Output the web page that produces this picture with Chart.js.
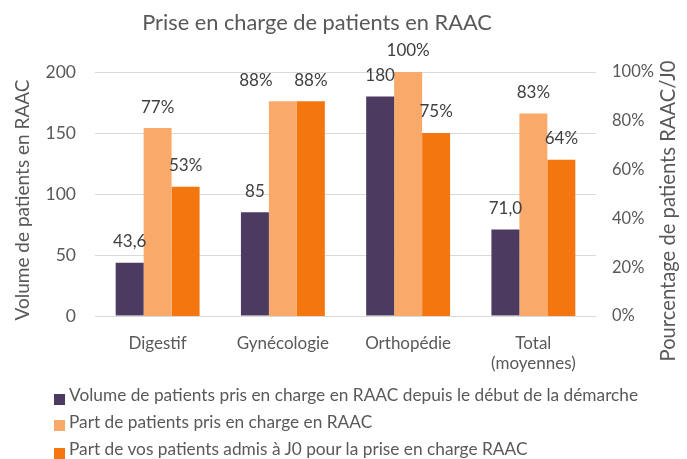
<!DOCTYPE html>
<html><head><meta charset="utf-8">
<script src="https://cdn.jsdelivr.net/npm/chart.js@4/dist/chart.umd.min.js"></script>
<style>
html,body{margin:0;padding:0;background:#fff;}
#wrap{position:relative;width:687px;height:459px;font-family:Lato,sans-serif;color:#595959;}
#c{position:absolute;left:0;top:0;}
#title{position:absolute;left:0;width:634px;top:9px;text-align:center;font-size:21.8px;line-height:26px;white-space:nowrap;}
.lg{position:absolute;left:54px;font-size:17.3px;line-height:20px;white-space:nowrap;}
.lg i{position:absolute;left:0;width:11px;height:11px;}
.lg span{position:absolute;left:15px;top:0;}
</style>
</head><body>
<div id="wrap">
<canvas id="c" width="687" height="459"></canvas>
<div id="title"></div>
<div id="legend"></div>
</div>
<script>
const chartTitle = "Prise en charge de patients en RAAC";
const categories = ["Digestif", "Gynécologie", "Orthopédie", ["Total", "(moyennes)"]];
const volumeValues = [43.6, 85, 180, 71.0];
const volumeLabels = ["43,6", "85", "180", "71,0"];
const partRAAC = [77, 88, 100, 83];
const partJ0 = [53, 88, 75, 64];
const seriesNames = [
  "Volume de patients pris en charge en RAAC depuis le début de la démarche",
  "Part de patients pris en charge en RAAC",
  "Part de vos patients admis à J0 pour la prise en charge RAAC"
];
const leftTicks = [0, 50, 100, 150, 200];
const rightTicks = [0, 20, 40, 60, 80, 100];
const leftAxisTitle = "Volume de patients en RAAC";
const rightAxisTitle = "Pourcentage de patients RAAC/J0";
const colors = ["#4d3a61", "#f9aa6b", "#f3760f"];

const FONT = "Lato, sans-serif";
const TXT = "#595959";

document.getElementById('title').textContent = chartTitle;
const lg = document.getElementById('legend');
const rowTops = [385, 411.5, 439];
seriesNames.forEach((n, i) => {
  const d = document.createElement('div');
  d.className = 'lg';
  d.style.top = rowTops[i] + 'px';
  d.innerHTML = '<i style="background:' + colors[i] + ';top:8.5px"></i><span></span>';
  d.querySelector('span').textContent = n;
  lg.appendChild(d);
});

// label nudge (manually moved label in the original: Gynécologie, 2nd series)
function labelShift(di, i) { return (di === 1 && i === 1) ? -27 : 0; }

const extras = {
  id: 'extras',
  afterDatasetsDraw(chart) {
    const ctx = chart.ctx;
    ctx.save();
    ctx.font = "17px " + FONT;
    ctx.fillStyle = "#404040";
    ctx.textAlign = 'center';
    ctx.textBaseline = 'middle';
    chart.data.datasets.forEach((ds, di) => {
      const meta = chart.getDatasetMeta(di);
      meta.data.forEach((el, i) => {
        const txt = di === 0 ? volumeLabels[i] : ds.data[i] + '%';
        ctx.fillText(txt, el.x + labelShift(di, i), el.y - 21);
      });
    });
    ctx.fillStyle = TXT;
    ctx.font = "19px " + FONT;
    const ca = chart.chartArea;
    ctx.translate(23, (ca.top + ca.bottom) / 2 + 6);
    ctx.rotate(-Math.PI / 2);
    ctx.fillText(leftAxisTitle, 0, 0);
    ctx.restore();
    ctx.save();
    ctx.fillStyle = TXT;
    ctx.font = "20.2px " + FONT;
    ctx.textAlign = 'center';
    ctx.textBaseline = 'middle';
    ctx.translate(668, 211);
    ctx.rotate(-Math.PI / 2);
    ctx.fillText(rightAxisTitle, 0, 0);
    ctx.restore();
  }
};

new Chart(document.getElementById('c'), {
  type: 'bar',
  data: {
    labels: categories,
    datasets: [
      { label: seriesNames[0], data: volumeValues, backgroundColor: colors[0], yAxisID: 'y' },
      { label: seriesNames[1], data: partRAAC, backgroundColor: colors[1], yAxisID: 'y1' },
      { label: seriesNames[2], data: partJ0, backgroundColor: colors[2], yAxisID: 'y1' }
    ]
  },
  options: {
    responsive: false,
    animation: false,
    devicePixelRatio: 1,
    layout: { padding: { top: 72, bottom: 83, left: 0, right: 0 } },
    datasets: { bar: { categoryPercentage: 0.67, barPercentage: 1.0 } },
    plugins: { legend: { display: false }, title: { display: false }, tooltip: { enabled: false } },
    scales: {
      x: {
        grid: { display: false, drawTicks: false },
        border: { display: false },
        ticks: { color: TXT, font: { family: FONT, size: 17, lineHeight: 1.18 }, padding: 17, maxRotation: 0, autoSkip: false },
        afterFit(s) { s.height = 60; }
      },
      y: {
        position: 'left', min: 0, max: 200,
        afterBuildTicks(s) { s.ticks = leftTicks.map(v => ({ value: v })); },
        grid: { color: '#d9d9d9', drawTicks: false, lineWidth: 1 },
        border: { display: false },
        ticks: { color: TXT, font: { family: FONT, size: 17.5 }, padding: 19 },
        afterFit(s) { s.width = 95; }
      },
      y1: {
        position: 'right', min: 0, max: 100,
        afterBuildTicks(s) { s.ticks = rightTicks.map(v => ({ value: v })); },
        grid: { display: false, drawTicks: false },
        border: { display: false },
        ticks: { color: TXT, font: { family: FONT, size: 16.5 }, padding: 16, callback: v => v + '%' },
        afterFit(s) { s.width = 91; }
      }
    }
  },
  plugins: [extras]
});
</script>
</body></html>
